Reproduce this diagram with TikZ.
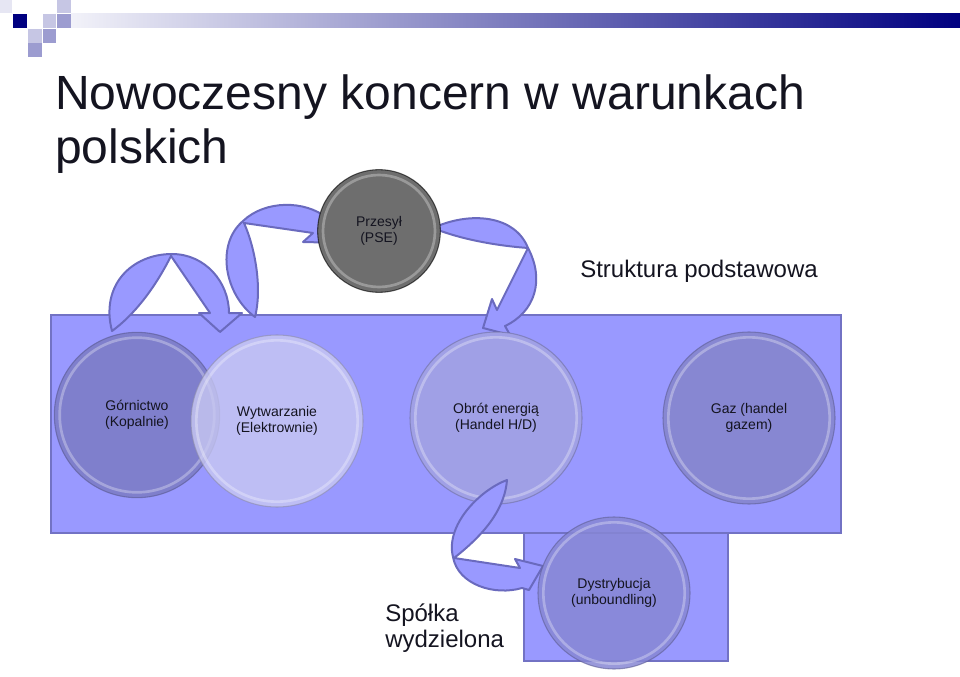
\documentclass[tikz,border=0pt]{standalone}
\usepackage{fontspec}
\setmainfont{Liberation Sans}
\usetikzlibrary{calc}
\definecolor{ink}{HTML}{141420}
\definecolor{navy}{HTML}{000080}
\definecolor{barlight}{HTML}{F2F2F9}
\definecolor{sqpale}{HTML}{E6E6F3}
\definecolor{sqlight}{HTML}{C6C6E4}
\definecolor{sqmid}{HTML}{9C9CD0}
\definecolor{panelfill}{HTML}{9999FF}
\definecolor{panelline}{HTML}{7272C4}
\definecolor{swoopfill}{HTML}{9999FF}
\definecolor{swoopline}{HTML}{6A6ABE}
\definecolor{minefill}{HTML}{7F7FCC}
\definecolor{plantfill}{HTML}{C8C8F2}
\definecolor{tradefill}{HTML}{A0A0E6}
\definecolor{gasfill}{HTML}{8787D2}
\definecolor{gridfill}{HTML}{6E6E6E}
\definecolor{distfill}{HTML}{8787D4}
\newcommand{\unitsize}{\fontsize{10.5}{12}\selectfont}
\tikzset{
 every node/.append style={text=ink,align=center},
 headline/.style={font=\fontsize{36}{41}\selectfont,anchor=base west,inner sep=0pt,align=left},
 caption/.style={font=\fontsize{18}{19.5}\selectfont,anchor=base west,inner sep=0pt,align=left},
 panel/.style={fill=panelfill,draw=panelline,line width=1.5pt},
 swoop/.style={fill=swoopfill,draw=swoopline,line width=1.5pt,line join=round},
 glint/.style={path picture={
   \draw[white,opacity=.3,line width=2pt]
     let \p1=(path picture bounding box.north), \p2=(path picture bounding box.center),
     \n1={\y1-\y2-4pt} in (\p2) circle[radius=\n1*1pt];}},
 disc/.style={circle,inner sep=0pt,font=\unitsize,fill=#1,draw=#1!70!black,draw opacity=.6,line width=.8pt,glint},
}

\begin{document}
\begin{tikzpicture}[x=.75pt,y=-.75pt]

\useasboundingbox (0,0) rectangle (960,677);
% header strip
\fill[sqpale] (0,0) rectangle (12,13);
\fill[sqlight] (57,0) rectangle (71,13);
\fill[navy] (13,14) rectangle (27,28);
\fill[sqlight] (43,14) rectangle (56,28);
\fill[sqmid] (57,14) rectangle (71,28);
\fill[sqlight] (28,29) rectangle (42,43);
\fill[sqmid] (43,29) rectangle (56,43);
\fill[sqmid] (28,43) rectangle (42,57);
\shade[left color=barlight,right color=navy] (71,14) rectangle (960,28);
\node[headline] (title) at (55,164) {Nowoczesny koncern w warunkach\\polskich};
\node[caption] (basic) at (580,277) {Struktura podstawowa};
% panels
\draw[panel] (51,315) rectangle (841,533);
\draw[panel] (524,533) rectangle (728,661);
% bent arrows
\draw[swoop] (112,331) .. controls (100,285) and (132,254) .. (172,254)
 .. controls (205,254) and (229,282) .. (229,313)
 -- (242,313) -- (220,332) -- (199,313) -- (210,313)
 -- (171,256) .. controls (158,282) and (138,312) .. cycle;
\draw[swoop] (255,317) .. controls (225,295) and (215,245) .. (243,221)
 .. controls (265,200) and (305,200) .. (327,218)
 -- (333,214) -- (345,243) -- (303,242) -- (313,233)
 -- (244,223) .. controls (256,250) and (262,290) .. cycle;
\draw[swoop] (433,228) .. controls (470,211) and (515,215) .. (528,248)
 .. controls (545,280) and (535,312) .. (505,326)
 -- (510,335) -- (483,328) -- (492,299) -- (497,310)
 -- (528,248) .. controls (500,246) and (462,240) .. cycle;
% units
\node[disc=minefill,minimum size=124pt] (mine) at (137,415) {Górnictwo\\(Kopalnie)};
\node[disc=plantfill,fill opacity=.8,text opacity=1,minimum size=129pt] (plant) at (277,421) {Wytwarzanie\\(Elektrownie)};
\node[disc=tradefill,minimum size=129pt] (trade) at (496,418) {Obrót energią\\(Handel H/D)};
\node[disc=gasfill,minimum size=129pt] (gas) at (749,418) {Gaz (handel\\gazem)};
\node[disc=gridfill,draw=black,minimum size=92pt] (grid) at (379,231) {Przesył\\(PSE)};
\draw[swoop] (507,480) .. controls (480,490) and (445,525) .. (453,557)
 .. controls (458,585) and (495,596) .. (522,588)
 -- (529,590) -- (543,566) -- (515,559) -- (520,568)
 -- (454,558) .. controls (490,530) and (505,505) .. cycle;
\node[disc=distfill,fill opacity=.85,text opacity=1,minimum size=114pt] (dist) at (614,593) {Dystrybucja\\(unboundling)};
\node[caption] (spinoff) at (385,647) {Spółka\\wydzielona};

\end{tikzpicture}
\end{document}
